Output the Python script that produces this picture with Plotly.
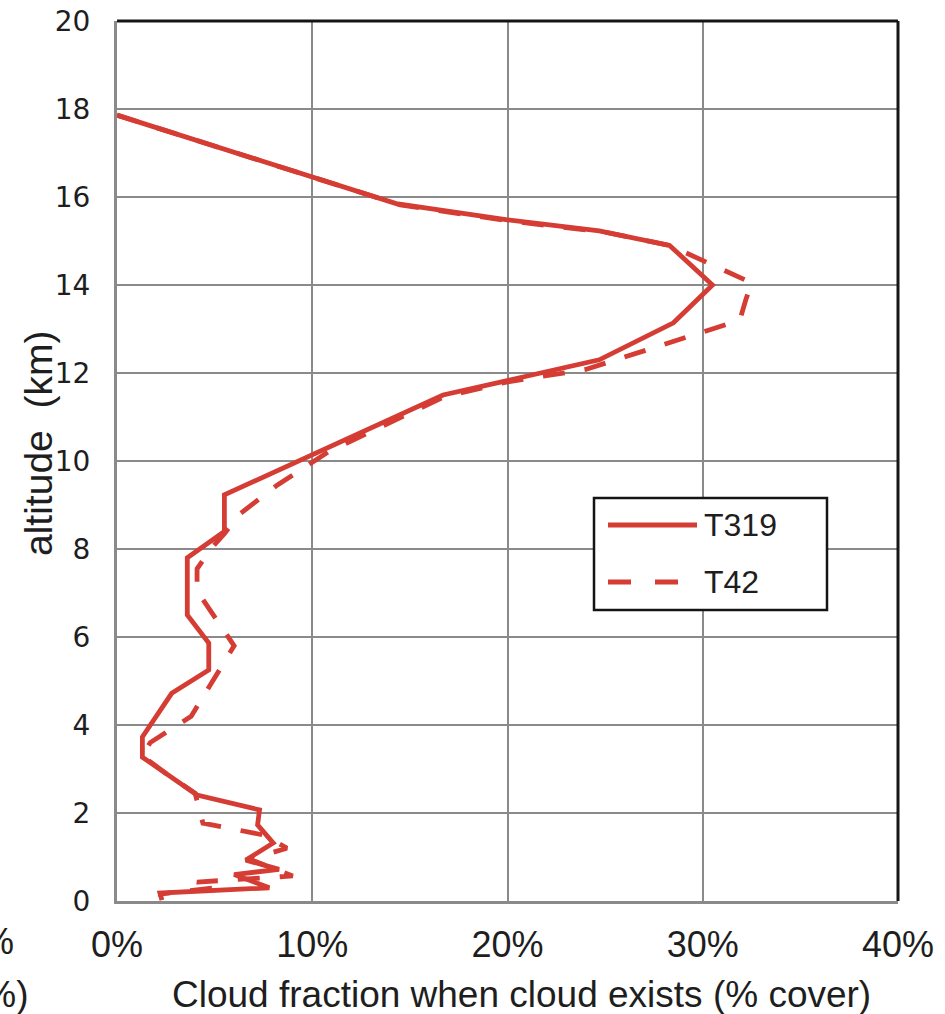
import plotly.graph_objects as go

# Cloud fraction profiles (percent cover) versus altitude (km)
t319_cover = [0.0, 10.0, 14.3, 20.0, 24.7, 28.3, 30.5, 28.5, 24.7, 16.7, 5.5, 5.5,
              3.6, 3.6, 4.7, 4.7, 2.8, 1.3, 1.3, 4.1, 7.3, 7.2, 8.0, 6.6, 8.3,
              6.0, 7.8, 2.2, 2.3]
t319_alt = [17.86, 16.45, 15.85, 15.48, 15.23, 14.9, 14.0, 13.14, 12.3, 11.5, 9.23, 8.4,
            7.8, 6.5, 5.86, 5.25, 4.72, 3.73, 3.27, 2.41, 2.07, 1.73, 1.32, 0.93, 0.72,
            0.6, 0.3, 0.18, 0.02]

t42_cover = [0.0, 10.5, 14.5, 20.0, 25.0, 28.3, 32.5, 32.2, 31.9, 24.0, 20.0, 16.7,
             10.8, 8.2, 6.3, 5.5, 4.8, 4.1, 4.1, 6.0, 3.8, 1.7, 1.3, 2.5, 4.0, 4.4,
             7.5, 8.7, 6.8, 9.0, 5.5, 4.1, 5.0, 2.1]
t42_alt = [17.86, 16.4, 15.82, 15.46, 15.2, 14.9, 14.05, 13.66, 13.2, 12.08, 11.8, 11.45,
           10.2, 9.45, 8.8, 8.35, 8.0, 7.55, 7.05, 5.8, 4.2, 3.6, 3.3, 2.9, 2.45, 1.77,
           1.5, 1.2, 0.95, 0.57, 0.48, 0.43, 0.3, 0.15]

x_ticks = [0, 10, 20, 30, 40]
x_tick_labels = ["0%", "10%", "20%", "30%", "40%"]
y_ticks = list(range(0, 21, 2))

RED = "rgb(213,60,52)"
GRID = "rgb(138,138,138)"
TEXT = "rgb(30,30,30)"
FONT = "Liberation Sans, Arial, sans-serif"
WIDE = "DejaVu Sans, Verdana, sans-serif"

fig = go.Figure()
fig.add_trace(go.Scatter(x=t319_cover, y=t319_alt, mode="lines", name="T319",
                         line=dict(color=RED, width=4.8), showlegend=False))
fig.add_trace(go.Scatter(x=t42_cover, y=t42_alt, mode="lines", name="T42",
                         line=dict(color=RED, width=4.8, dash="22px,20px"),
                         showlegend=False))

fig.update_layout(
    width=945, height=1014,
    margin=dict(l=117, r=47, t=21, b=113),
    paper_bgcolor="white", plot_bgcolor="white",
    font=dict(family=FONT, color=TEXT, size=26),
    xaxis=dict(range=[0, 40], tickvals=x_ticks, ticktext=x_tick_labels,
               showgrid=True, gridcolor=GRID, gridwidth=2,
               showline=True, linecolor=GRID, linewidth=3,
               zeroline=False, ticks="", ticklabelstandoff=10, automargin=False,
               tickfont=dict(family=FONT, size=36)),
    yaxis=dict(range=[0, 20], tickvals=y_ticks,
               showgrid=True, gridcolor=GRID, gridwidth=2,
               showline=True, linecolor=GRID, linewidth=3,
               zeroline=False, ticks="", ticklabelstandoff=18, automargin=False,
               tickfont=dict(family=WIDE, size=28)),
)

# black frame on the top and right sides
fig.add_shape(type="line", xref="paper", yref="paper", x0=0, x1=1, y0=1, y1=1,
              line=dict(color="rgb(20,22,22)", width=3))
fig.add_shape(type="line", xref="paper", yref="paper", x0=1, x1=1, y0=0, y1=1,
              line=dict(color="rgb(20,22,22)", width=3))

# helpers converting page pixels to paper coordinates
def px_x(p):
    return (p - 117) / 781.0

def px_y(p):
    return (901 - p) / 880.0

# axis titles
fig.add_annotation(text="Cloud fraction when cloud exists (% cover)", xref="paper",
                   yref="paper", x=px_x(521), y=px_y(994), xanchor="center",
                   yanchor="middle", showarrow=False,
                   font=dict(family=FONT, size=37, color=TEXT))
fig.add_annotation(text="altitude  (km)", xref="paper", yref="paper",
                   x=px_x(38), y=px_y(444), xanchor="center", yanchor="middle",
                   textangle=-90, showarrow=False,
                   font=dict(family=FONT, size=39, color=TEXT))

# boxed legend with long line samples
fig.add_shape(type="rect", xref="paper", yref="paper",
              x0=px_x(594), x1=px_x(827), y0=px_y(610), y1=px_y(498),
              fillcolor="white", line=dict(color="rgb(20,20,20)", width=2.5))
fig.add_shape(type="line", xref="paper", yref="paper",
              x0=px_x(608), x1=px_x(697), y0=px_y(525), y1=px_y(525),
              line=dict(color=RED, width=5))
fig.add_shape(type="line", xref="paper", yref="paper",
              x0=px_x(608), x1=px_x(700), y0=px_y(582), y1=px_y(582),
              line=dict(color=RED, width=5, dash="23px,24px"))
for label, yp in (("T319", 525), ("T42", 582)):
    fig.add_annotation(text=label, xref="paper", yref="paper",
                       x=px_x(702), y=px_y(yp), xanchor="left", yanchor="middle",
                       showarrow=False, font=dict(size=32, color=TEXT))

# edge of the neighbouring panel's labels
fig.add_annotation(text="40%", xref="paper", yref="paper", x=px_x(16), y=px_y(941),
                   xanchor="right", yanchor="middle", showarrow=False,
                   font=dict(family=FONT, size=36, color=TEXT))
fig.add_annotation(text="(%)", xref="paper", yref="paper", x=px_x(31), y=px_y(994),
                   xanchor="right", yanchor="middle", showarrow=False,
                   font=dict(family=FONT, size=37, color=TEXT))

fig.write_html("out.html")
